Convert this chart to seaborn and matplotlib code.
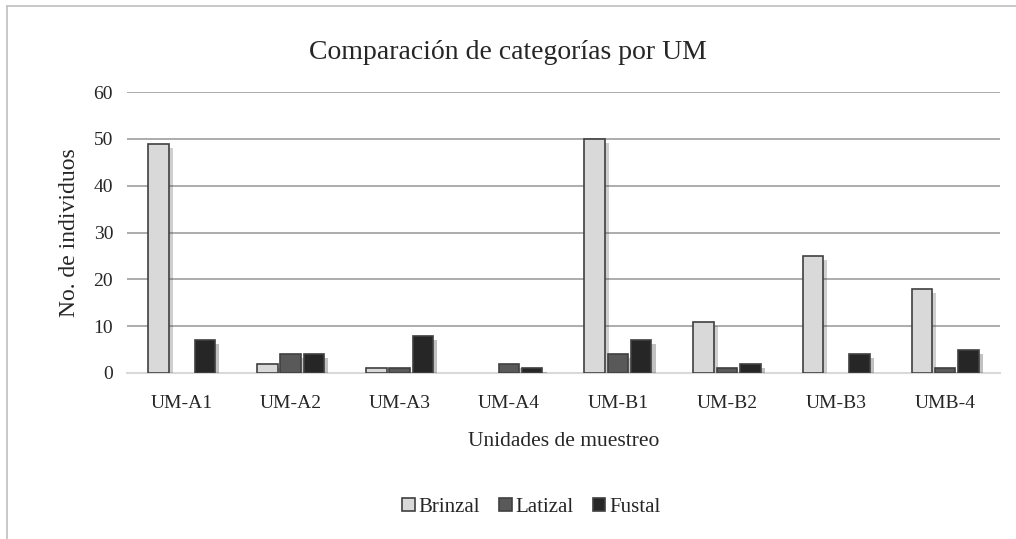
import pandas as pd
import matplotlib.pyplot as plt
import matplotlib.patheffects as pe
from matplotlib.lines import Line2D
import seaborn as sns

unidades = ['UM-A1', 'UM-A2', 'UM-A3', 'UM-A4', 'UM-B1', 'UM-B2', 'UM-B3', 'UMB-4']
brinzal = [49, 2, 1, 0, 50, 11, 25, 18]
latizal = [0, 4, 1, 2, 4, 1, 0, 1]
fustal = [7, 4, 8, 1, 7, 2, 4, 5]
categorias = ['Brinzal', 'Latizal', 'Fustal']

df = pd.DataFrame({'UM': unidades, 'Brinzal': brinzal, 'Latizal': latizal, 'Fustal': fustal})
df = df.melt(id_vars='UM', var_name='Categoria', value_name='N')

sns.set_style('white')
plt.rcParams['font.family'] = ['Liberation Serif', 'DejaVu Serif']

fig = plt.figure(figsize=(10.16, 5.39), dpi=100)
ax = fig.add_axes([0.125, 0.308, 0.859, 0.521])

colores = {'Brinzal': '#d9d9d9', 'Latizal': '#595959', 'Fustal': '#262626'}
sns.barplot(data=df, x='UM', y='N', hue='Categoria', hue_order=categorias,
            palette=colores, width=0.64, gap=0.12, ax=ax, legend=True,
            edgecolor='#404040', linewidth=1.2, zorder=3)

# leyenda abajo (antes de las sombras)
h, l = ax.get_legend_handles_labels()
ax.get_legend().remove()
fig.legend(h, l, loc='center', bbox_to_anchor=(0.523, 0.059), ncol=3, frameon=False,
           fontsize=15, handlelength=0.6, handleheight=0.6, handletextpad=0.2,
           columnspacing=0.9)

for p in ax.patches:
    if p.get_height() == 0:
        p.set_visible(False)
        continue
    p.set_path_effects([pe.SimplePatchShadow(offset=(3, -3), alpha=0.25), pe.Normal()])

ax.set_ylim(0, 60)
ax.set_yticks(range(0, 61, 10))
ax.set_xlim(-0.5, 7.5)
ax.grid(axis='y', color='#a6a6a6', linewidth=1.3, zorder=0)
for s in ['top', 'right', 'left']:
    ax.spines[s].set_visible(False)
ax.spines['bottom'].set_color('#d9d9d9')
ax.spines['bottom'].set_linewidth(1.5)
ax.tick_params(axis='x', length=0, labelsize=14, pad=16)
ax.tick_params(axis='y', length=0, labelsize=14, pad=10)
ax.set_xlabel('Unidades de muestreo', fontsize=15.5, labelpad=14)
ax.set_ylabel('No. de individuos', fontsize=17, labelpad=10)
fig.suptitle('Comparación de categorías por UM', fontsize=20, y=0.925)

# marco (solo arriba e izquierda visibles)
fig.add_artist(Line2D([0.007, 0.007], [0, 0.989], transform=fig.transFigure, color='#bfbfbf', lw=1.2))
fig.add_artist(Line2D([0.007, 1], [0.989, 0.989], transform=fig.transFigure, color='#bfbfbf', lw=1.2))

plt.savefig('out.png', dpi=100)
